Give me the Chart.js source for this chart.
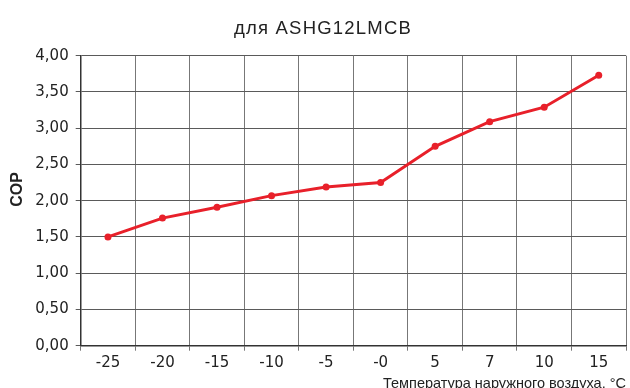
<!DOCTYPE html>
<html>
<head>
    <meta charset="utf-8">
    <title>COP ASHG12LMCB</title>
    <script src="https://cdn.jsdelivr.net/npm/chart.js"></script>
    <style>
        html, body { margin: 0; padding: 0; background: #fff; overflow: hidden; }
        .chart-box { position: relative; width: 630px; height: 400px; }
    </style>
</head>
<body>
    <div class="chart-box">
        <canvas id="copChart"></canvas>
    </div>

    <script>
        // Data
        const temperatures = ['-25', '-20', '-15', '-10', '-5', '-0', '5', '7', '10', '15'];
        const copValues = [1.50, 1.76, 1.91, 2.07, 2.19, 2.25, 2.75, 3.09, 3.29, 3.73];
        const chartTitle = 'для ASHG12LMCB';
        const yTitle = 'COP';
        const xTitle = 'Температура наружного воздуха, °C';

        const fontFamily = '"Liberation Sans", Arial, Helvetica, sans-serif';
        const tickFamily = '"DejaVu Sans", "Liberation Sans", sans-serif';
        const red = '#e8202a';

        // chart title and COP label drawn by hand (the original is wide / off-centre)
        const textLabels = {
            id: 'textLabels',
            afterDraw(chart) {
                const c = chart.ctx;
                c.save();
                c.fillStyle = '#222';
                c.textAlign = 'center';
                c.textBaseline = 'alphabetic';
                c.font = '18.5px ' + fontFamily;
                if ('letterSpacing' in c) c.letterSpacing = '1.2px';
                c.fillText(chartTitle, 323, 34);
                if ('letterSpacing' in c) c.letterSpacing = '0px';

                c.translate(22, 189.5);
                c.rotate(-Math.PI / 2);
                c.font = 'bold 16px ' + fontFamily;
                c.fillText(yTitle, 0, 0);
                c.restore();
            }
        };

        const ctx = document.getElementById('copChart').getContext('2d');
        new Chart(ctx, {
            type: 'line',
            data: {
                labels: temperatures,
                datasets: [{
                    label: yTitle,
                    data: copValues,
                    borderColor: red,
                    backgroundColor: red,
                    borderWidth: 3,
                    pointRadius: 3.5,
                    pointBackgroundColor: red,
                    pointBorderWidth: 0,
                    tension: 0
                }]
            },
            options: {
                responsive: true,
                maintainAspectRatio: false,
                devicePixelRatio: 1,
                animation: false,
                layout: { padding: { left: 8, right: 3, top: 55.7, bottom: 0 } },
                plugins: {
                    legend: { display: false },
                    tooltip: { enabled: false },
                    title: { display: false }
                },
                scales: {
                    x: {
                        offset: true,
                        grid: {
                            offset: true,
                            color: '#777',
                            lineWidth: 1,
                            tickLength: 5
                        },
                        border: { color: '#333', width: 1.5 },
                        ticks: {
                            color: '#222',
                            padding: 3,
                            font: { family: tickFamily, size: 15 }
                        },
                        title: {
                            display: true,
                            text: xTitle,
                            align: 'end',
                            color: '#222',
                            font: { family: fontFamily, size: 14.5 },
                            padding: { top: 0, bottom: 7 }
                        },
                        afterFit: function (scale) { scale.height = 54.3; }
                    },
                    y: {
                        min: 0,
                        max: 4,
                        grid: {
                            color: '#5a5a5a',
                            lineWidth: 1,
                            tickLength: 5
                        },
                        border: { color: '#333', width: 1.5 },
                        ticks: {
                            stepSize: 0.5,
                            color: '#222',
                            padding: 7,
                            font: { family: tickFamily, size: 15 },
                            callback: function (value) {
                                return value.toFixed(2).replace('.', ',');
                            }
                        },
                        afterFit: function (scale) { scale.width = 72.7; }
                    }
                }
            },
            plugins: [textLabels]
        });
    </script>
</body>
</html>
